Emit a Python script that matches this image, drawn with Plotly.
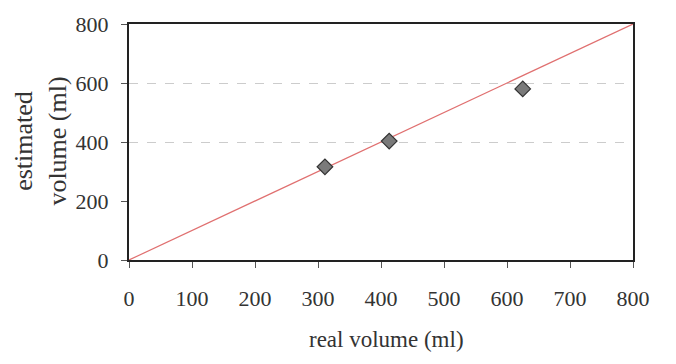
import plotly.graph_objects as go

# measured vs. estimated volumes (ml)
real_volume = [311, 413, 625]
estimated_volume = [316, 403, 580]

# identity reference line
identity_x = [0, 800]
identity_y = [0, 800]

axis_ticks = [0, 100, 200, 300, 400, 500, 600, 700, 800]
y_ticks = [0, 200, 400, 600, 800]
grid_levels = [400, 600]

FONT = "Liberation Serif"

fig = go.Figure()
fig.add_trace(go.Scatter(
    x=identity_x, y=identity_y, mode="lines",
    line=dict(color="#e07070", width=1.2),
    showlegend=False, hoverinfo="skip",
))
fig.add_trace(go.Scatter(
    x=real_volume, y=estimated_volume, mode="markers",
    marker=dict(symbol="diamond", size=12, color="#7a7a7a",
                line=dict(color="#333333", width=1.2)),
    showlegend=False,
))

fig.update_layout(
    width=676, height=364,
    margin=dict(l=129, r=43, t=12, b=104),
    paper_bgcolor="white", plot_bgcolor="white",
    font=dict(family=FONT, color="#333333", size=22),
    xaxis=dict(
        range=[0, 800], tickvals=axis_ticks, ticks="outside", ticklen=6,
        tickcolor="#555", showline=True, linecolor="#222", linewidth=2,
        mirror=True, showgrid=False, zeroline=False,
        ticklabelstandoff=12, tickfont=dict(size=22, family=FONT),
    ),
    yaxis=dict(
        range=[0, 800], tickvals=y_ticks, ticks="outside", ticklen=6,
        tickcolor="#555", showline=True, linecolor="#222", linewidth=2,
        mirror=True, showgrid=False, zeroline=False,
        ticklabelstandoff=8, tickfont=dict(size=22, family=FONT),
    ),
    yaxis2=dict(
        range=[0, 800], overlaying="y", tickvals=grid_levels,
        showticklabels=False, showgrid=True, gridcolor="#cccccc",
        griddash="dash", gridwidth=1, zeroline=False, showline=False,
    ),
    annotations=[
        dict(text="estimated<br>volume (ml)", textangle=-90,
             xref="paper", yref="paper", x=-0.175, y=0.505,
             xanchor="center", yanchor="middle", showarrow=False,
             font=dict(size=26, family=FONT, color="#333")),
        dict(text="real volume (ml)", xref="paper", yref="paper",
             x=0.51, y=-0.275, xanchor="center", yanchor="top",
             showarrow=False, font=dict(size=23, family=FONT, color="#333")),
    ],
)
# empty trace so the grid axis is drawn
fig.add_trace(go.Scatter(x=[None], y=[None], yaxis="y2", showlegend=False))

fig.write_html("out.html")
